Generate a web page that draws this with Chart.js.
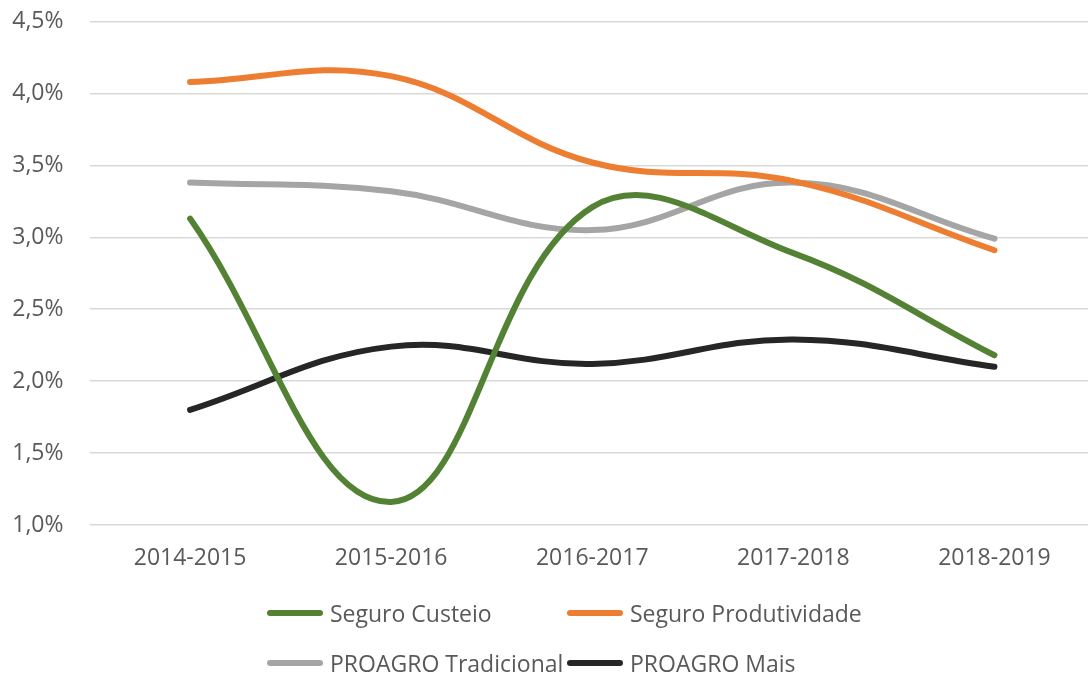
<!DOCTYPE html>
<html lang="pt">
<head>
<meta charset="utf-8">
<title>Seguro e PROAGRO</title>
<script src="https://cdn.jsdelivr.net/npm/chart.js@4/dist/chart.umd.min.js"></script>
<style>
    html, body { margin: 0; padding: 0; background: #fff; overflow: hidden; }
    body { width: 1088px; height: 674px; position: relative; font-family: "Open Sans", sans-serif; }
    #wrap { position: absolute; left: 0; top: 0; width: 1095px; height: 592px; }
    #legend { position: absolute; left: 0; top: 0; width: 1088px; height: 674px; pointer-events: none; }
    .item { position: absolute; display: flex; align-items: center; color: #595959; font-size: 23px; white-space: nowrap; }
    .swatch { width: 56px; height: 6px; border-radius: 3px; margin-right: 7px; }
</style>
</head>
<body>
<div id="wrap"><canvas id="chart"></canvas></div>
<div id="legend"></div>
<script>
// Safras
const categories = ['2014-2015', '2015-2016', '2016-2017', '2017-2018', '2018-2019'];

// Valores em %
const seguroCusteio = [3.13, 1.16, 3.21, 2.89, 2.18];
const seguroProdutividade = [4.08, 4.12, 3.52, 3.39, 2.91];
const proagroTradicional = [3.38, 3.32, 3.05, 3.38, 2.99];
const proagroMais = [1.80, 2.24, 2.12, 2.29, 2.10];

const seriesNames = ['Seguro Custeio', 'Seguro Produtividade', 'PROAGRO Tradicional', 'PROAGRO Mais'];
const seriesColors = ['#548235', '#ED7D31', '#A5A5A5', '#262626'];

const yMin = 1.0;
const yMax = 4.5;
const yStep = 0.5;

const textColor = '#595959';
const font = { family: '"Open Sans", sans-serif', size: 23 };

function makeSet(i, data) {
    return {
        label: seriesNames[i],
        data: data,
        borderColor: seriesColors[i],
        backgroundColor: seriesColors[i],
        borderWidth: 6,
        borderCapStyle: 'round',
        borderJoinStyle: 'round',
        pointRadius: 0,
        pointHoverRadius: 0,
        tension: 0.4,
        fill: false
    };
}

// legenda em HTML, duas colunas alinhadas como no Excel
const htmlLegend = {
    id: 'htmlLegend',
    afterUpdate(chart) {
        const box = document.getElementById('legend');
        box.innerHTML = '';
        const cols = [267, 567];
        const rows = [613, 663];
        chart.data.datasets.forEach((ds, i) => {
            const el = document.createElement('div');
            el.className = 'item';
            el.style.left = cols[i % 2] + 'px';
            el.style.top = (rows[Math.floor(i / 2)] - 16) + 'px';
            el.style.height = '32px';
            const sw = document.createElement('span');
            sw.className = 'swatch';
            sw.style.background = ds.borderColor;
            const tx = document.createElement('span');
            tx.textContent = ds.label;
            el.appendChild(sw);
            el.appendChild(tx);
            box.appendChild(el);
        });
    }
};

const ctx = document.getElementById('chart').getContext('2d');
new Chart(ctx, {
    type: 'line',
    data: {
        labels: categories,
        datasets: [
            makeSet(0, seguroCusteio),
            makeSet(1, seguroProdutividade),
            makeSet(2, proagroTradicional),
            makeSet(3, proagroMais)
        ]
    },
    options: {
        responsive: true,
        maintainAspectRatio: false,
        animation: false,
        layout: { padding: { top: 21.5, right: 0, bottom: 0, left: 0 } },
        plugins: {
            legend: { display: false },
            tooltip: { enabled: false }
        },
        scales: {
            x: {
                offset: true,
                grid: { display: false, drawTicks: false },
                border: { display: false },
                ticks: { color: textColor, font: font, padding: 20, maxRotation: 0 },
                afterFit: s => { s.height = 67; }
            },
            y: {
                min: yMin,
                max: yMax,
                grid: { color: '#d9d9d9', lineWidth: 1.5, drawTicks: false },
                border: { display: false },
                ticks: {
                    stepSize: yStep,
                    color: textColor,
                    font: font,
                    padding: 26,
                    callback: v => v.toFixed(1).replace('.', ',') + '%'
                },
                afterFit: s => {
                    s.width = 89.5;
                    s.paddingTop = 0;
                    s.paddingBottom = 0;
                }
            }
        }
    },
    plugins: [htmlLegend]
});
</script>
</body>
</html>
